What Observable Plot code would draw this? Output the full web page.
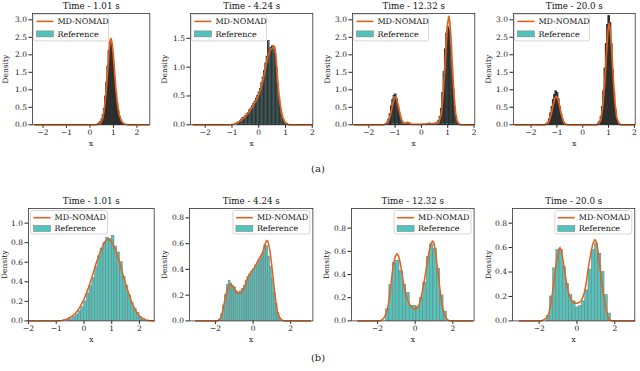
<!DOCTYPE html>
<html><head><meta charset="utf-8">
<script src="https://cdn.jsdelivr.net/npm/d3@7"></script>
<script src="https://cdn.jsdelivr.net/npm/@observablehq/plot@0.6"></script>
<style>
body{margin:0;background:#fff;}
#wrap{position:relative;width:640px;height:371px;overflow:hidden;font-family:"DejaVu Serif",serif;background:#fff;}
.panel{position:absolute;}
.cap{position:absolute;font-family:"DejaVu Serif",serif;font-size:10px;color:#222;transform:translate(-50%,-50%);white-space:nowrap;}
</style></head><body><div id="wrap"></div>
<script>
// ---------- data ----------
const titles = ["Time - 1.01 s","Time - 4.24 s","Time - 12.32 s","Time - 20.0 s",
                "Time - 1.01 s","Time - 4.24 s","Time - 12.32 s","Time - 20.0 s"];
const seriesNames = ["MD-NOMAD","Reference"];
const subLabels = ["(a)","(b)"];
const xTicksTop = [-2,-1,0,1,2];
const xTicksB1 = [-2,-1,0,1,2];
const xTicksB2 = [-2,0,2];
const yTicksA = [0,0.5,1,1.5,2,2.5,3];
const yTicksB = [0,0.5,1,1.5];
const yTicksC = [0,0.2,0.4,0.6,0.8,1.0];
const yTicksD = [0,0.2,0.4,0.6,0.8];
const binWidths = [0.05,0.05,0.05,0.05,0.1,0.1,0.18,0.17];

// MD-NOMAD curves [x, density]
const lineP1 = [[-2.36,0],[0.2,0],[0.35,0.01],[0.45,0.05],[0.55,0.2],[0.62,0.5],[0.7,1.05],[0.76,1.6],[0.82,2.15],[0.87,2.44],[0.9,2.46],[0.95,2.3],[1.0,1.95],[1.05,1.5],[1.1,1.05],[1.17,0.6],[1.25,0.28],[1.35,0.1],[1.45,0.03],[1.6,0],[2.5,0]];
const lineP2 = [[-2.45,0],[-1.1,0],[-0.95,0.01],[-0.8,0.04],[-0.65,0.08],[-0.5,0.14],[-0.35,0.23],[-0.2,0.34],[-0.1,0.42],[0,0.52],[0.1,0.66],[0.2,0.86],[0.28,1.05],[0.35,1.2],[0.42,1.29],[0.48,1.32],[0.52,1.33],[0.56,1.37],[0.6,1.34],[0.64,1.2],[0.68,0.95],[0.72,0.7],[0.77,0.46],[0.83,0.27],[0.9,0.13],[0.97,0.05],[1.05,0.01],[1.15,0],[1.97,0]];
const lineP3 = [[-2.55,0],[-1.45,0],[-1.35,0.02],[-1.27,0.08],[-1.2,0.22],[-1.13,0.45],[-1.06,0.68],[-1.0,0.8],[-0.95,0.76],[-0.89,0.58],[-0.82,0.33],[-0.75,0.14],[-0.68,0.05],[-0.6,0.04],[-0.52,0.07],[-0.45,0.04],[-0.35,0.01],[-0.1,0.01],[0.1,0.02],[0.3,0.03],[0.5,0.03],[0.6,0.04],[0.68,0.1],[0.75,0.3],[0.82,0.8],[0.88,1.5],[0.94,2.3],[1.0,2.9],[1.04,3.1],[1.08,2.95],[1.13,2.4],[1.18,1.6],[1.24,0.85],[1.3,0.35],[1.36,0.1],[1.42,0.02],[1.5,0],[1.97,0]];
const lineP4 = [[-2.62,0],[-1.45,0],[-1.38,0.02],[-1.3,0.1],[-1.22,0.3],[-1.15,0.55],[-1.08,0.76],[-1.02,0.81],[-0.96,0.74],[-0.9,0.55],[-0.83,0.3],[-0.76,0.11],[-0.7,0.03],[-0.62,0],[0.55,0],[0.62,0.02],[0.7,0.15],[0.78,0.55],[0.85,1.2],[0.92,2.05],[0.97,2.65],[1.02,2.9],[1.07,2.7],[1.12,2.15],[1.18,1.35],[1.25,0.6],[1.32,0.2],[1.4,0.04],[1.47,0],[1.97,0]];
const lineP5 = [[-2,0],[-1,0],[-0.8,0.005],[-0.6,0.02],[-0.45,0.045],[-0.3,0.08],[-0.15,0.14],[0,0.22],[0.15,0.33],[0.3,0.46],[0.45,0.6],[0.6,0.72],[0.75,0.81],[0.87,0.84],[1.0,0.81],[1.15,0.72],[1.3,0.58],[1.45,0.43],[1.6,0.29],[1.75,0.17],[1.9,0.085],[2.05,0.035],[2.2,0.012],[2.35,0.003],[2.53,0]];
const lineP6 = [[-3.05,0],[-1.9,0],[-1.78,0.01],[-1.68,0.04],[-1.58,0.1],[-1.48,0.18],[-1.38,0.24],[-1.28,0.27],[-1.17,0.285],[-1.06,0.26],[-0.95,0.235],[-0.8,0.215],[-0.7,0.215],[-0.58,0.23],[-0.45,0.26],[-0.33,0.32],[-0.2,0.36],[-0.1,0.38],[0,0.4],[0.1,0.42],[0.2,0.45],[0.3,0.48],[0.4,0.5],[0.5,0.53],[0.6,0.58],[0.7,0.62],[0.76,0.625],[0.82,0.6],[0.9,0.54],[0.97,0.46],[1.05,0.36],[1.13,0.25],[1.22,0.14],[1.3,0.07],[1.4,0.03],[1.5,0.01],[1.65,0],[3.05,0]];
const lineP7 = [[-3.05,0],[-1.9,0],[-1.75,0.01],[-1.64,0.03],[-1.55,0.06],[-1.46,0.11],[-1.37,0.2],[-1.29,0.31],[-1.22,0.41],[-1.15,0.49],[-1.07,0.55],[-0.97,0.58],[-0.88,0.56],[-0.79,0.5],[-0.7,0.41],[-0.6,0.31],[-0.5,0.23],[-0.37,0.17],[-0.25,0.13],[-0.14,0.11],[0,0.1],[0.1,0.11],[0.21,0.14],[0.3,0.19],[0.39,0.26],[0.5,0.36],[0.62,0.48],[0.72,0.58],[0.82,0.66],[0.92,0.69],[1.0,0.67],[1.08,0.6],[1.16,0.49],[1.24,0.38],[1.32,0.27],[1.4,0.17],[1.48,0.1],[1.57,0.05],[1.66,0.02],[1.76,0.005],[1.9,0],[3.05,0]];
const lineP8 = [[-3.05,0],[-1.9,0],[-1.75,0.01],[-1.64,0.02],[-1.55,0.035],[-1.46,0.08],[-1.37,0.15],[-1.28,0.25],[-1.2,0.35],[-1.11,0.46],[-1.02,0.54],[-0.95,0.59],[-0.9,0.6],[-0.83,0.58],[-0.76,0.52],[-0.67,0.43],[-0.58,0.34],[-0.49,0.26],[-0.4,0.21],[-0.3,0.17],[-0.2,0.15],[-0.1,0.145],[0,0.145],[0.1,0.15],[0.21,0.16],[0.3,0.19],[0.39,0.23],[0.48,0.3],[0.56,0.39],[0.65,0.48],[0.74,0.56],[0.84,0.63],[0.95,0.665],[1.02,0.65],[1.09,0.6],[1.18,0.49],[1.27,0.37],[1.36,0.26],[1.44,0.18],[1.53,0.1],[1.62,0.04],[1.71,0.01],[1.85,0],[3.05,0]];

// Reference histograms [bin start, density]
const histP1 = [[0.35,0.02],[0.4,0.04],[0.45,0.08],[0.5,0.15],[0.55,0.27],[0.6,0.45],[0.65,0.8],[0.7,1.2],[0.75,1.65],[0.8,2.1],[0.85,2.36],[0.9,2.3],[0.95,2.05],[1.0,1.7],[1.05,1.3],[1.1,0.92],[1.15,0.6],[1.2,0.37],[1.25,0.21],[1.3,0.11],[1.35,0.05],[1.4,0.02]];
const histP2 = [[-0.8,0.03],[-0.75,0.04],[-0.7,0.06],[-0.65,0.09],[-0.6,0.12],[-0.55,0.12],[-0.5,0.15],[-0.45,0.18],[-0.4,0.2],[-0.35,0.25],[-0.3,0.28],[-0.25,0.32],[-0.2,0.36],[-0.15,0.4],[-0.1,0.45],[-0.05,0.5],[0,0.56],[0.05,0.62],[0.1,0.72],[0.15,0.82],[0.2,0.93],[0.25,1.06],[0.3,1.18],[0.35,1.45],[0.4,1.3],[0.45,1.33],[0.5,1.36],[0.55,1.33],[0.6,1.22],[0.65,0.98],[0.7,0.7],[0.75,0.46],[0.8,0.28],[0.85,0.16],[0.9,0.08],[0.95,0.04],[1.0,0.02],[1.05,0.01]];
const histP3 = [[-1.35,0.02],[-1.3,0.06],[-1.25,0.15],[-1.2,0.3],[-1.15,0.52],[-1.1,0.7],[-1.05,0.82],[-1.0,0.86],[-0.95,0.72],[-0.9,0.52],[-0.85,0.32],[-0.8,0.16],[-0.75,0.07],[-0.7,0.03],[-0.65,0.02],[-0.6,0.03],[-0.55,0.05],[-0.5,0.04],[-0.45,0.02],[0.2,0.02],[0.3,0.03],[0.4,0.02],[0.5,0.03],[0.6,0.05],[0.65,0.1],[0.7,0.22],[0.75,0.45],[0.8,0.9],[0.85,1.5],[0.9,2.15],[0.95,2.6],[1.0,2.78],[1.05,2.7],[1.1,2.3],[1.15,1.65],[1.2,1.0],[1.25,0.5],[1.3,0.2],[1.35,0.07],[1.4,0.02]];
const histP4 = [[-1.4,0.02],[-1.35,0.06],[-1.3,0.15],[-1.25,0.32],[-1.2,0.5],[-1.15,0.7],[-1.1,0.85],[-1.05,0.95],[-1.0,0.9],[-0.95,0.72],[-0.9,0.5],[-0.85,0.3],[-0.8,0.14],[-0.75,0.06],[-0.7,0.02],[0.6,0.03],[0.65,0.08],[0.7,0.22],[0.75,0.5],[0.8,0.95],[0.85,1.6],[0.9,2.3],[0.95,2.85],[1.0,3.1],[1.05,2.9],[1.1,2.3],[1.15,1.55],[1.2,0.9],[1.25,0.42],[1.3,0.16],[1.35,0.05],[1.4,0.02]];
const histP5 = [[-0.6,0.01],[-0.5,0.02],[-0.4,0.04],[-0.3,0.06],[-0.2,0.1],[-0.1,0.14],[0.0,0.2],[0.1,0.28],[0.2,0.36],[0.3,0.44],[0.4,0.55],[0.5,0.66],[0.6,0.74],[0.7,0.8],[0.8,0.85],[0.9,0.84],[1.0,0.87],[1.1,0.76],[1.2,0.7],[1.3,0.6],[1.4,0.45],[1.5,0.36],[1.6,0.26],[1.7,0.18],[1.8,0.12],[1.9,0.08],[2.0,0.04],[2.1,0.02]];
const histP6 = [[-1.8,0.01],[-1.7,0.05],[-1.6,0.12],[-1.5,0.2],[-1.4,0.28],[-1.3,0.31],[-1.2,0.29],[-1.1,0.27],[-1.0,0.26],[-0.9,0.23],[-0.8,0.22],[-0.7,0.23],[-0.6,0.25],[-0.5,0.27],[-0.4,0.31],[-0.3,0.34],[-0.2,0.36],[-0.1,0.38],[0.0,0.4],[0.1,0.43],[0.2,0.44],[0.3,0.47],[0.4,0.5],[0.5,0.53],[0.6,0.59],[0.7,0.58],[0.8,0.5],[0.9,0.42],[1.0,0.33],[1.1,0.22],[1.2,0.13],[1.3,0.06],[1.4,0.02]];
const histP7 = [[-1.55,0.1],[-1.37,0.31],[-1.19,0.5],[-1.01,0.52],[-0.83,0.43],[-0.65,0.31],[-0.47,0.24],[-0.29,0.13],[-0.11,0.13],[0.07,0.12],[0.25,0.2],[0.43,0.33],[0.61,0.55],[0.79,0.66],[0.97,0.62],[1.15,0.45],[1.33,0.22],[1.51,0.08]];
const histP8 = [[-1.6,0.04],[-1.43,0.2],[-1.26,0.43],[-1.09,0.58],[-0.92,0.58],[-0.75,0.44],[-0.58,0.3],[-0.41,0.21],[-0.24,0.16],[-0.07,0.11],[0.1,0.12],[0.27,0.16],[0.44,0.25],[0.61,0.42],[0.78,0.58],[0.95,0.63],[1.12,0.55],[1.29,0.4],[1.46,0.21],[1.63,0.06]];

const lines = [lineP1,lineP2,lineP3,lineP4,lineP5,lineP6,lineP7,lineP8];
const hists = [histP1,histP2,histP3,histP4,histP5,histP6,histP7,histP8];

// ---------- layout / style ----------
const ORANGE = "#e2621d", TEAL = "#52c4bc";
const layout = [
  {fl:31.7, fr:149,   ft:12.7,  fb:124,   xd:[-2.45,2.55], yd:[0,3.18],  xt:xTicksTop, yt:yTicksA, leg:"left",  row:0, stroke:"#2e2e2e", sw:1.3, lo:30},
  {fl:190,  fr:312.3, ft:12.7,  fb:124,   xd:[-2.55,2.02], yd:[0,1.93],  xt:xTicksTop, yt:yTicksB, leg:"left",  row:0, stroke:"#333", sw:1.1, lo:28.5},
  {fl:351.7,fr:474,   ft:12.7,  fb:124,   xd:[-2.62,2.03], yd:[0,3.18],  xt:xTicksTop, yt:yTicksA, leg:"left",  row:0, stroke:"#2e2e2e", sw:1.3, lo:27.5},
  {fl:513.3,fr:635,   ft:12.7,  fb:124,   xd:[-2.68,2.03], yd:[0,3.18],  xt:xTicksTop, yt:yTicksA, leg:"left",  row:0, stroke:"#2e2e2e", sw:1.3, lo:27.5},
  {fl:28.3, fr:154,   ft:208.3, fb:320.7, xd:[-2.0,2.53],  yd:[0,1.15],  xt:xTicksB1,  yt:yTicksC, leg:"left",  row:1, stroke:"#777", sw:0.5, lo:27},
  {fl:189.3,fr:312.7, ft:208.3, fb:320.7, xd:[-3.38,3.18], yd:[0,0.873], xt:xTicksB2,  yt:yTicksD, leg:"right", row:1, stroke:"#777", sw:0.5, lo:27.5},
  {fl:350.7,fr:473.3, ft:208.3, fb:320.7, xd:[-3.38,3.13], yd:[0,0.97],  xt:xTicksB2,  yt:yTicksD, leg:"right", row:1, stroke:"#777", sw:0.5, lo:27.5},
  {fl:511.7,fr:634,   ft:208.3, fb:320.7, xd:[-3.41,3.06], yd:[0,0.92],  xt:xTicksB2,  yt:yTicksD, leg:"right", row:1, stroke:"#777", sw:0.5, lo:26.5}
];
const legStyle = [{w:75,h:26.5,off:1.4,r1:7,r2:19.5},{w:77,h:23.5,off:2.5,r1:7.2,r2:18}];
const capPos = [{x:318,y:168},{x:318,y:357}];

const fmtX = d => d < 0 ? "\u2212" + Math.abs(d) : String(d);
const fmtY = d => d.toFixed(1);

const wrap = document.getElementById("wrap");
const mL = 34, mR = 5, mT = 14, mB = 26;

layout.forEach((cfg, i) => {
  const bw = binWidths[i];
  const bars = hists[i].map(([x0, v]) => ({x1: x0, x2: x0 + bw, y: v}));
  const pts = lines[i].map(([x, y]) => ({x, y}));
  const W = cfg.fr - cfg.fl + mL + mR, H = cfg.fb - cfg.ft + mT + mB;
  const plot = Plot.plot({
    width: W, height: H, marginLeft: mL, marginRight: mR, marginTop: mT, marginBottom: mB,
    style: {fontFamily: "DejaVu Serif", fontSize: "7.5px", background: "none", overflow: "visible", color: "#222"},
    x: {domain: cfg.xd, ticks: cfg.xt, tickFormat: fmtX, tickSize: 3.5, tickPadding: 1.5,
        label: "x", labelAnchor: "center", labelArrow: "none", labelOffset: 21},
    y: {domain: cfg.yd, ticks: cfg.yt, tickFormat: fmtY, tickSize: 3.5, tickPadding: 2,
        label: "Density", labelAnchor: "center", labelArrow: "none", labelOffset: cfg.lo},
    marks: [
      Plot.rect(bars, {x1: "x1", x2: "x2", y1: 0, y2: "y", fill: TEAL, stroke: cfg.stroke, strokeWidth: cfg.sw}),
      Plot.line(pts, {x: "x", y: "y", stroke: ORANGE, strokeWidth: cfg.row === 0 ? 1.7 : 1.5}),
      Plot.frame({stroke: "#333", strokeWidth: 0.8}),
      Plot.text([titles[i]], {text: d => d, frameAnchor: "top", dy: -4, lineAnchor: "bottom", fontSize: 8.7, fontWeight: "normal", fill: "#111"})
    ]
  });
  // legend
  const ls = legStyle[cfg.row];
  const fx0 = mL, fx1 = W - mR, fy0 = mT;
  const bx = cfg.leg === "left" ? fx0 + ls.off : fx1 - ls.off - ls.w;
  const by = fy0 + ls.off;
  const g = d3.select(plot).append("g").attr("font-family", "DejaVu Serif").attr("font-size", 8).attr("text-anchor", "start");
  g.append("rect").attr("x", bx).attr("y", by).attr("width", ls.w).attr("height", ls.h)
    .attr("rx", 2).attr("fill", "white").attr("fill-opacity", 0.8).attr("stroke", "#cccccc").attr("stroke-width", 0.8);
  g.append("line").attr("x1", bx + 3).attr("x2", bx + 20).attr("y1", by + ls.r1).attr("y2", by + ls.r1)
    .attr("stroke", ORANGE).attr("stroke-width", 1.6);
  g.append("rect").attr("x", bx + 3).attr("y", by + ls.r2 - 3).attr("width", 17).attr("height", 6)
    .attr("fill", TEAL).attr("stroke", "#777").attr("stroke-width", 0.5);
  g.append("text").attr("x", bx + 24).attr("y", by + ls.r1).attr("dy", "0.35em").attr("fill", "#111").text(seriesNames[0]);
  g.append("text").attr("x", bx + 24).attr("y", by + ls.r2).attr("dy", "0.35em").attr("fill", "#111").text(seriesNames[1]);

  const div = document.createElement("div");
  div.className = "panel";
  div.style.left = (cfg.fl - mL) + "px";
  div.style.top = (cfg.ft - mT) + "px";
  div.appendChild(plot);
  wrap.appendChild(div);
});

subLabels.forEach((t, k) => {
  const d = document.createElement("div");
  d.className = "cap";
  d.style.left = capPos[k].x + "px";
  d.style.top = capPos[k].y + "px";
  d.textContent = t;
  wrap.appendChild(d);
});
</script></body></html>
